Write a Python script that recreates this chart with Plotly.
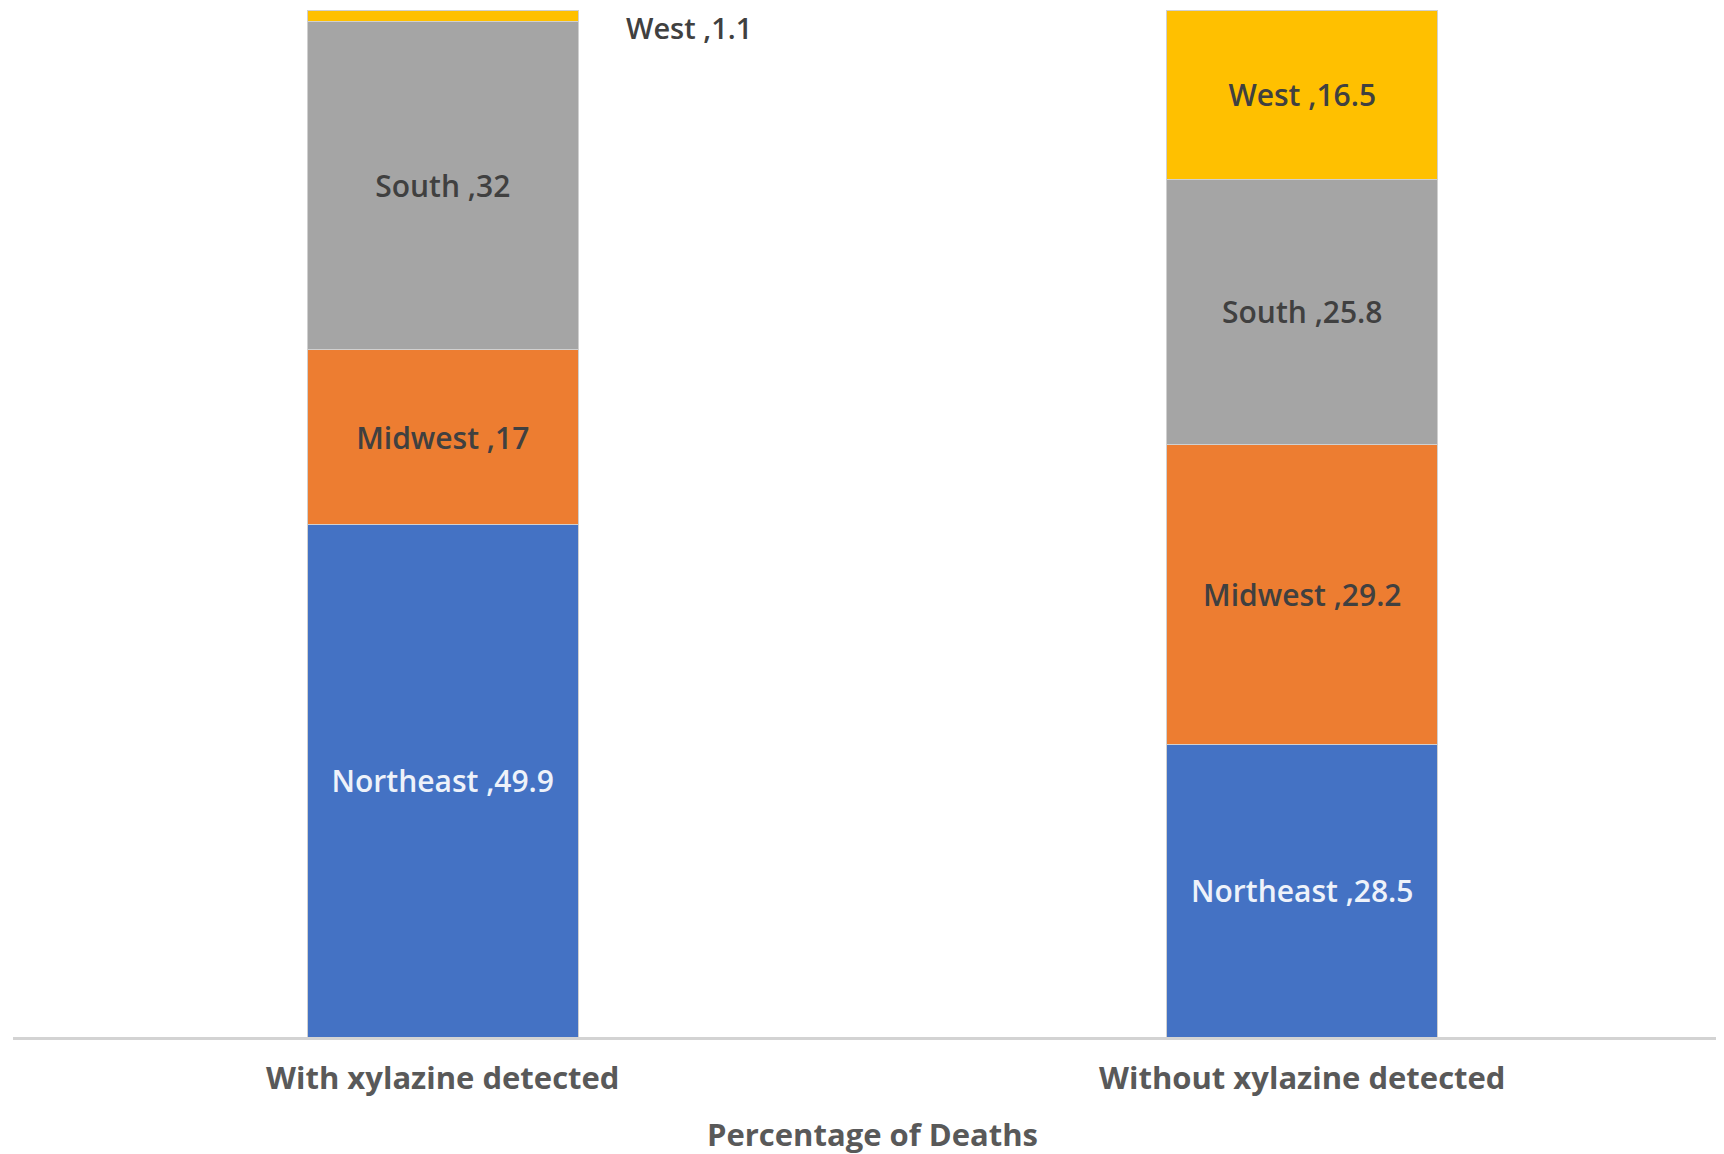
import plotly.graph_objects as go

categories = ["With xylazine detected", "Without xylazine detected"]
regions = ["Northeast", "Midwest", "South", "West"]
northeast = [49.9, 28.5]
midwest = [17, 29.2]
south = [32, 25.8]
west = [1.1, 16.5]
series = [northeast, midwest, south, west]
colors = ["#4472C4", "#ED7D31", "#A5A5A5", "#FFC000"]
label_colors = ["#EEF2FA", "#404040", "#404040", "#404040"]

FONT = "Open Sans"
fig = go.Figure()
for name, vals, col, lc in zip(regions, series, colors, label_colors):
    texts = []
    for i, v in enumerate(vals):
        # small segment gets an outside annotation instead
        texts.append("" if v < 5 else f"{name} ,{v:g}")
    fig.add_trace(go.Bar(
        x=categories, y=vals, name=name,
        marker=dict(color=col, line=dict(color="#D0D0D0", width=1)),
        text=texts, textposition="inside", insidetextanchor="middle",
        textangle=0,
        textfont=dict(family=FONT, size=30, color=lc, weight=600),
        showlegend=False,
    ))

# outside label for tiny segments
for i, cat in enumerate(categories):
    base = 0
    for name, vals in zip(regions, series):
        v = vals[i]
        if v < 5:
            fig.add_annotation(
                x=cat, y=base + v / 2, text=f"{name} ,{v:g}",
                showarrow=False, xanchor="left", xshift=182, yshift=-12,
                borderpad=0,
                font=dict(family=FONT, size=29, color="#404040", weight=600),
            )
        base += v

fig.update_layout(
    barmode="stack",
    bargap=0.685,
    width=1724, height=1154,
    margin=dict(l=5, r=0, t=2, b=125),
    paper_bgcolor="white", plot_bgcolor="white",
    xaxis=dict(
        showline=True, linecolor="#D3D3D3", linewidth=3,
        ticks="", ticklabelstandoff=12,
        tickfont=dict(family=FONT, size=31, color="#595959", weight="bold"),
        title=dict(text="Percentage of Deaths",
                   font=dict(family=FONT, size=31, color="#595959", weight="bold"),
                   standoff=28),
    ),
    yaxis=dict(range=[0, 100], visible=False, showgrid=False),
)
fig.write_html("out.html")
